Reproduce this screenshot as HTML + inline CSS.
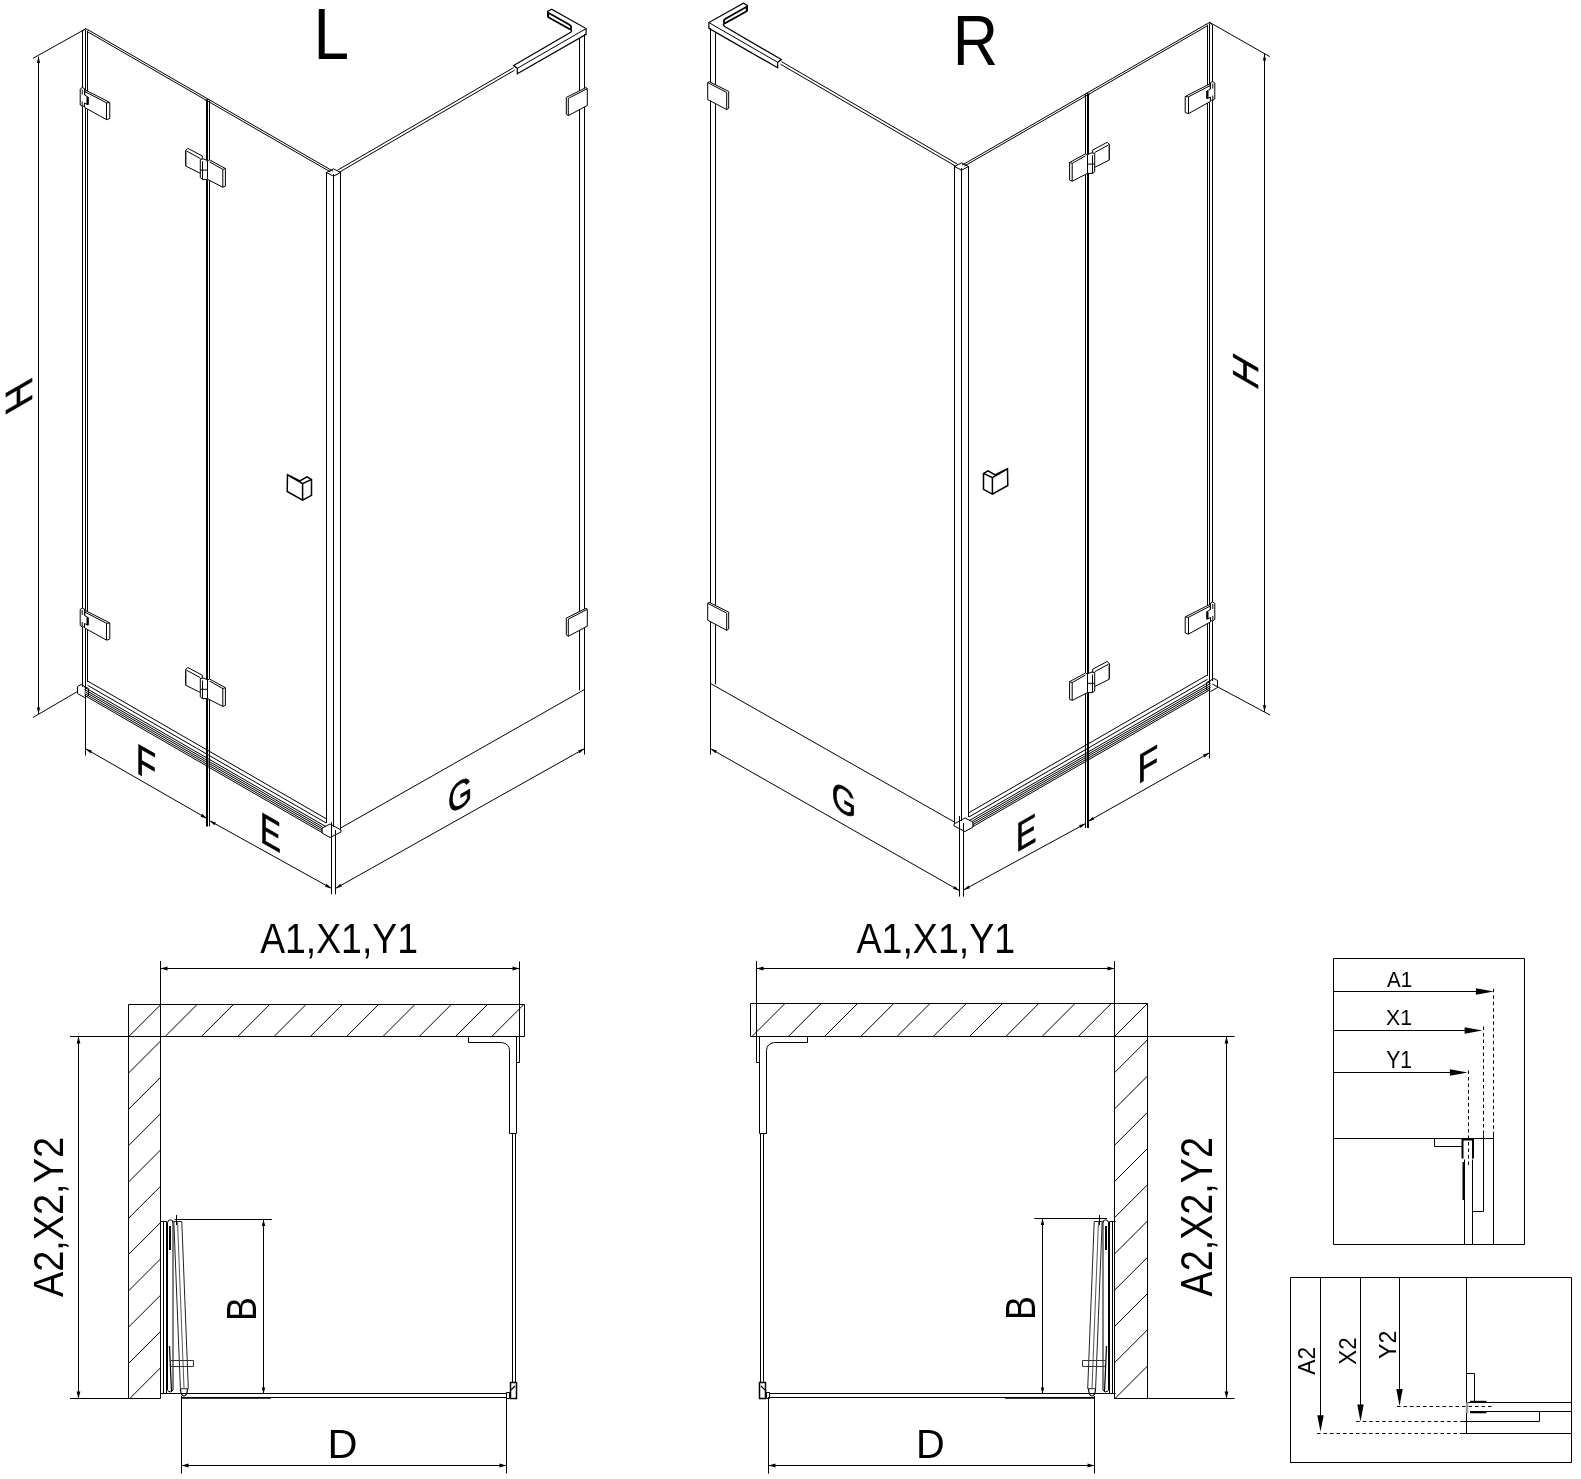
<!DOCTYPE html>
<html><head><meta charset="utf-8"><style>
html,body{margin:0;padding:0;background:#fff;width:1581px;height:1479px;overflow:hidden}
svg{display:block;will-change:transform}
text{font-family:"Liberation Sans",sans-serif}
</style></head><body>
<svg width="1581" height="1479" viewBox="0 0 1581 1479">
<rect width="1581" height="1479" fill="#fff"/>
<g>
<line x1="82.50" y1="31.00" x2="82.50" y2="687.00" stroke="#000" stroke-width="1" />
<line x1="85.50" y1="29.50" x2="85.50" y2="691.00" stroke="#000" stroke-width="1" />
<line x1="87.50" y1="31.00" x2="87.50" y2="682.00" stroke="#000" stroke-width="1" />
<path d="M82.5,31 L85.5,28.5 L88.5,30.5" stroke="#000" stroke-width="1" fill="none" />
<line x1="88.00" y1="29.80" x2="333.00" y2="171.20" stroke="#000" stroke-width="1" />
<line x1="88.00" y1="32.00" x2="330.50" y2="172.00" stroke="#000" stroke-width="1" />
<line x1="207.00" y1="100.00" x2="207.00" y2="789.00" stroke="#000" stroke-width="2" />
<line x1="209.50" y1="101.00" x2="209.50" y2="789.00" stroke="#000" stroke-width="1" />
<path d="M205.5,100.5 L208,99 L211,101" stroke="#000" stroke-width="1" fill="none" />
<line x1="326.50" y1="172.00" x2="326.50" y2="823.00" stroke="#000" stroke-width="1" />
<line x1="333.50" y1="174.00" x2="333.50" y2="827.00" stroke="#000" stroke-width="1" />
<line x1="340.50" y1="172.00" x2="340.50" y2="830.00" stroke="#000" stroke-width="1" />
<path d="M326.5,172.5 L333.5,168.8 L340.5,172.5 L333.5,176.2 Z" stroke="#000" stroke-width="1" fill="none" />
<line x1="337.50" y1="170.20" x2="513.60" y2="67.60" stroke="#000" stroke-width="1" />
<line x1="339.00" y1="172.40" x2="514.50" y2="70.20" stroke="#000" stroke-width="1" />
<path d="M513.6,65.6 L570.3,32.6 Q573,30.5 570.5,29 L547.6,16.2 L547.6,11.4 L551.6,9.3 L586.1,28.6 L586.1,34.3 L517.3,73.8 L517.3,68.3 Z" stroke="#000" stroke-width="1.2" fill="none" />
<line x1="513.60" y1="65.60" x2="517.30" y2="68.30" stroke="#000" stroke-width="1" />
<line x1="517.30" y1="68.30" x2="586.10" y2="28.60" stroke="#000" stroke-width="1" />
<path d="M548.3,12.8 L569.5,24.8 Q572.3,26.8 570.5,29.6 L548.3,17.3 Z" stroke="#000" stroke-width="1.7" fill="#fff" />
<line x1="579.50" y1="38.00" x2="579.50" y2="690.30" stroke="#000" stroke-width="1" />
<line x1="584.50" y1="34.00" x2="584.50" y2="690.00" stroke="#000" stroke-width="1" />
<line x1="584.50" y1="689.50" x2="340.50" y2="828.10" stroke="#000" stroke-width="1" />
<line x1="87.50" y1="680.94" x2="326.00" y2="818.63" stroke="#000" stroke-width="1" />
<line x1="87.50" y1="685.24" x2="326.00" y2="822.93" stroke="#000" stroke-width="1" />
<line x1="84.50" y1="687.31" x2="326.00" y2="826.73" stroke="#000" stroke-width="1" />
<line x1="84.50" y1="689.51" x2="322.50" y2="826.91" stroke="#000" stroke-width="1" />
<line x1="84.50" y1="691.51" x2="322.50" y2="828.91" stroke="#000" stroke-width="1" />
<line x1="84.50" y1="693.51" x2="322.50" y2="830.91" stroke="#000" stroke-width="1" />
<line x1="84.50" y1="695.41" x2="322.50" y2="832.81" stroke="#000" stroke-width="1" />
<path d="M77.5,686.5 L81,684.5 L88.5,688.5 L88.5,695.5 L84.5,697.5 L77.5,693.5 Z" stroke="#000" stroke-width="1" fill="none" />
<path d="M322,828 L330,824 L341,830 L341,832 L330,837.5 L322,833 Z" stroke="#000" stroke-width="1" fill="none" />
<path d="M287.5,474.8 L287.2,491.5 L302.6,500.1 L311.5,495.3 L311.5,479.4 L306.9,476.8 L299.9,480.9 Z M302.6,483.6 L302.6,500.1 M287.5,474.8 L302.6,483.6 L311.5,479.4" stroke="#000" stroke-width="1.5" fill="none" />
<path d="M84.9,89.8 L108,101.5 L109.8,102.6 L109.8,118.5 L106.7,119.7 L84.5,107.4 Z" stroke="#000" stroke-width="1" fill="#fff" />
<path d="M80.2,89 L82.2,87.5 L84.5,88.7 L84.5,95 L88,97 L88,104.7 L84.5,103 L84.5,106 L82.3,106.5 L80.2,105 Z" stroke="#000" stroke-width="1" fill="#fff" />
<path d="M82.2,89.5 V94.5 M82.2,101.5 V106" stroke="#000" stroke-width="1" fill="none" />
<path d="M87.6,97 V104.7" stroke="#000" stroke-width="2.2" fill="none" />
<line x1="84.90" y1="91.60" x2="106.50" y2="102.80" stroke="#000" stroke-width="1" />
<line x1="106.50" y1="102.80" x2="106.50" y2="119.50" stroke="#000" stroke-width="1" />
<line x1="106.50" y1="102.80" x2="109.80" y2="102.60" stroke="#000" stroke-width="1" />
<path d="M84.9,610.3 L108,622.0 L109.8,623.1 L109.8,639.0 L106.7,640.2 L84.5,627.9 Z" stroke="#000" stroke-width="1" fill="#fff" />
<path d="M80.2,609.5 L82.2,608.0 L84.5,609.2 L84.5,615.5 L88,617.5 L88,625.2 L84.5,623.5 L84.5,626.5 L82.3,627.0 L80.2,625.5 Z" stroke="#000" stroke-width="1" fill="#fff" />
<path d="M82.2,610.0 V615.0 M82.2,622.0 V626.5" stroke="#000" stroke-width="1" fill="none" />
<path d="M87.6,617.5 V625.2" stroke="#000" stroke-width="2.2" fill="none" />
<line x1="84.90" y1="612.10" x2="106.50" y2="623.30" stroke="#000" stroke-width="1" />
<line x1="106.50" y1="623.30" x2="106.50" y2="640.00" stroke="#000" stroke-width="1" />
<line x1="106.50" y1="623.30" x2="109.80" y2="623.10" stroke="#000" stroke-width="1" />
<path d="M185.6,150.5 L187.8,148.3 L202.3,156.0 L202.3,174.3 L185.6,166.0 Z" stroke="#000" stroke-width="1" fill="#fff" />
<path d="M185.6,150.5 L200.3,158.5" stroke="#000" stroke-width="1" fill="none" />
<line x1="186.50" y1="150.80" x2="186.50" y2="165.80" stroke="#999" stroke-width="1" />
<path d="M200.3,159.3 L200.3,177.8 L202.5,179.4 L207.5,179.4 L207.5,160.8 Q204,157.8 200.3,159.3 Z" stroke="#000" stroke-width="1" fill="#fff" />
<path d="M202.5,161.3 L202.5,179.3 M200.3,170.10000000000002 L207.5,170.10000000000002" stroke="#000" stroke-width="1" fill="none" />
<path d="M207.5,160.8 L209.5,159.8 L225.4,168.5 L225.4,186.10000000000002 L222.8,187.20000000000002 L207.5,179.4 Z" stroke="#000" stroke-width="1" fill="#fff" />
<path d="M209.5,161.8 L222.8,169.4 L222.8,187.20000000000002 M222.8,169.4 L225.4,168.5" stroke="#000" stroke-width="1" fill="none" />
<path d="M185.6,669.7 L187.8,667.5 L202.3,675.2 L202.3,693.5 L185.6,685.2 Z" stroke="#000" stroke-width="1" fill="#fff" />
<path d="M185.6,669.7 L200.3,677.7" stroke="#000" stroke-width="1" fill="none" />
<line x1="186.50" y1="670.00" x2="186.50" y2="685.00" stroke="#999" stroke-width="1" />
<path d="M200.3,678.5 L200.3,697.0 L202.5,698.6 L207.5,698.6 L207.5,680.0 Q204,677.0 200.3,678.5 Z" stroke="#000" stroke-width="1" fill="#fff" />
<path d="M202.5,680.5 L202.5,698.5 M200.3,689.3 L207.5,689.3" stroke="#000" stroke-width="1" fill="none" />
<path d="M207.5,680.0 L209.5,679.0 L225.4,687.7 L225.4,705.3 L222.8,706.4 L207.5,698.6 Z" stroke="#000" stroke-width="1" fill="#fff" />
<path d="M209.5,681.0 L222.8,688.6 L222.8,706.4 M222.8,688.6 L225.4,687.7" stroke="#000" stroke-width="1" fill="none" />
<path d="M566.3,97.39999999999999 L585.9,87.6 L587.3,88.6 L587.3,105.5 L568.3,115.6 L566.3,114.3 Z" stroke="#000" stroke-width="1" fill="#fff" />
<path d="M568.3,98.39999999999999 L568.3,115.6 M568.3,98.39999999999999 L587.3,88.6" stroke="#000" stroke-width="1" fill="none" />
<path d="M566.3,618.0999999999999 L585.9,608.3 L587.3,609.3 L587.3,626.1999999999999 L568.3,636.3 L566.3,635.0 Z" stroke="#000" stroke-width="1" fill="#fff" />
<path d="M568.3,619.0999999999999 L568.3,636.3 M568.3,619.0999999999999 L587.3,609.3" stroke="#000" stroke-width="1" fill="none" />
</g>
<g transform="matrix(-1 0 0 1 1295 -6)"><line x1="82.50" y1="31.00" x2="82.50" y2="687.00" stroke="#000" stroke-width="1" />
<line x1="85.50" y1="29.50" x2="85.50" y2="691.00" stroke="#000" stroke-width="1" />
<line x1="87.50" y1="31.00" x2="87.50" y2="682.00" stroke="#000" stroke-width="1" />
<path d="M82.5,31 L85.5,28.5 L88.5,30.5" stroke="#000" stroke-width="1" fill="none" />
<line x1="88.00" y1="29.80" x2="333.00" y2="171.20" stroke="#000" stroke-width="1" />
<line x1="88.00" y1="32.00" x2="330.50" y2="172.00" stroke="#000" stroke-width="1" />
<line x1="207.00" y1="100.00" x2="207.00" y2="789.00" stroke="#000" stroke-width="2" />
<line x1="209.50" y1="101.00" x2="209.50" y2="789.00" stroke="#000" stroke-width="1" />
<path d="M205.5,100.5 L208,99 L211,101" stroke="#000" stroke-width="1" fill="none" />
<line x1="326.50" y1="172.00" x2="326.50" y2="823.00" stroke="#000" stroke-width="1" />
<line x1="333.50" y1="174.00" x2="333.50" y2="827.00" stroke="#000" stroke-width="1" />
<line x1="340.50" y1="172.00" x2="340.50" y2="830.00" stroke="#000" stroke-width="1" />
<path d="M326.5,172.5 L333.5,168.8 L340.5,172.5 L333.5,176.2 Z" stroke="#000" stroke-width="1" fill="none" />
<line x1="337.50" y1="170.20" x2="513.60" y2="67.60" stroke="#000" stroke-width="1" />
<line x1="339.00" y1="172.40" x2="514.50" y2="70.20" stroke="#000" stroke-width="1" />
<path d="M513.6,65.6 L570.3,32.6 Q573,30.5 570.5,29 L547.6,16.2 L547.6,11.4 L551.6,9.3 L586.1,28.6 L586.1,34.3 L517.3,73.8 L517.3,68.3 Z" stroke="#000" stroke-width="1.2" fill="none" />
<line x1="513.60" y1="65.60" x2="517.30" y2="68.30" stroke="#000" stroke-width="1" />
<line x1="517.30" y1="68.30" x2="586.10" y2="28.60" stroke="#000" stroke-width="1" />
<path d="M548.3,12.8 L569.5,24.8 Q572.3,26.8 570.5,29.6 L548.3,17.3 Z" stroke="#000" stroke-width="1.7" fill="#fff" />
<line x1="579.50" y1="38.00" x2="579.50" y2="690.30" stroke="#000" stroke-width="1" />
<line x1="584.50" y1="34.00" x2="584.50" y2="690.00" stroke="#000" stroke-width="1" />
<line x1="584.50" y1="689.50" x2="340.50" y2="828.10" stroke="#000" stroke-width="1" />
<line x1="87.50" y1="680.94" x2="326.00" y2="818.63" stroke="#000" stroke-width="1" />
<line x1="87.50" y1="685.24" x2="326.00" y2="822.93" stroke="#000" stroke-width="1" />
<line x1="84.50" y1="687.31" x2="326.00" y2="826.73" stroke="#000" stroke-width="1" />
<line x1="84.50" y1="689.51" x2="322.50" y2="826.91" stroke="#000" stroke-width="1" />
<line x1="84.50" y1="691.51" x2="322.50" y2="828.91" stroke="#000" stroke-width="1" />
<line x1="84.50" y1="693.51" x2="322.50" y2="830.91" stroke="#000" stroke-width="1" />
<line x1="84.50" y1="695.41" x2="322.50" y2="832.81" stroke="#000" stroke-width="1" />
<path d="M77.5,686.5 L81,684.5 L88.5,688.5 L88.5,695.5 L84.5,697.5 L77.5,693.5 Z" stroke="#000" stroke-width="1" fill="none" />
<path d="M322,828 L330,824 L341,830 L341,832 L330,837.5 L322,833 Z" stroke="#000" stroke-width="1" fill="none" />
<path d="M287.5,474.8 L287.2,491.5 L302.6,500.1 L311.5,495.3 L311.5,479.4 L306.9,476.8 L299.9,480.9 Z M302.6,483.6 L302.6,500.1 M287.5,474.8 L302.6,483.6 L311.5,479.4" stroke="#000" stroke-width="1.5" fill="none" />
<path d="M84.9,89.8 L108,101.5 L109.8,102.6 L109.8,118.5 L106.7,119.7 L84.5,107.4 Z" stroke="#000" stroke-width="1" fill="#fff" />
<path d="M80.2,89 L82.2,87.5 L84.5,88.7 L84.5,95 L88,97 L88,104.7 L84.5,103 L84.5,106 L82.3,106.5 L80.2,105 Z" stroke="#000" stroke-width="1" fill="#fff" />
<path d="M82.2,89.5 V94.5 M82.2,101.5 V106" stroke="#000" stroke-width="1" fill="none" />
<path d="M87.6,97 V104.7" stroke="#000" stroke-width="2.2" fill="none" />
<line x1="84.90" y1="91.60" x2="106.50" y2="102.80" stroke="#000" stroke-width="1" />
<line x1="106.50" y1="102.80" x2="106.50" y2="119.50" stroke="#000" stroke-width="1" />
<line x1="106.50" y1="102.80" x2="109.80" y2="102.60" stroke="#000" stroke-width="1" />
<path d="M84.9,610.3 L108,622.0 L109.8,623.1 L109.8,639.0 L106.7,640.2 L84.5,627.9 Z" stroke="#000" stroke-width="1" fill="#fff" />
<path d="M80.2,609.5 L82.2,608.0 L84.5,609.2 L84.5,615.5 L88,617.5 L88,625.2 L84.5,623.5 L84.5,626.5 L82.3,627.0 L80.2,625.5 Z" stroke="#000" stroke-width="1" fill="#fff" />
<path d="M82.2,610.0 V615.0 M82.2,622.0 V626.5" stroke="#000" stroke-width="1" fill="none" />
<path d="M87.6,617.5 V625.2" stroke="#000" stroke-width="2.2" fill="none" />
<line x1="84.90" y1="612.10" x2="106.50" y2="623.30" stroke="#000" stroke-width="1" />
<line x1="106.50" y1="623.30" x2="106.50" y2="640.00" stroke="#000" stroke-width="1" />
<line x1="106.50" y1="623.30" x2="109.80" y2="623.10" stroke="#000" stroke-width="1" />
<path d="M185.6,150.5 L187.8,148.3 L202.3,156.0 L202.3,174.3 L185.6,166.0 Z" stroke="#000" stroke-width="1" fill="#fff" />
<path d="M185.6,150.5 L200.3,158.5" stroke="#000" stroke-width="1" fill="none" />
<line x1="186.50" y1="150.80" x2="186.50" y2="165.80" stroke="#999" stroke-width="1" />
<path d="M200.3,159.3 L200.3,177.8 L202.5,179.4 L207.5,179.4 L207.5,160.8 Q204,157.8 200.3,159.3 Z" stroke="#000" stroke-width="1" fill="#fff" />
<path d="M202.5,161.3 L202.5,179.3 M200.3,170.10000000000002 L207.5,170.10000000000002" stroke="#000" stroke-width="1" fill="none" />
<path d="M207.5,160.8 L209.5,159.8 L225.4,168.5 L225.4,186.10000000000002 L222.8,187.20000000000002 L207.5,179.4 Z" stroke="#000" stroke-width="1" fill="#fff" />
<path d="M209.5,161.8 L222.8,169.4 L222.8,187.20000000000002 M222.8,169.4 L225.4,168.5" stroke="#000" stroke-width="1" fill="none" />
<path d="M185.6,669.7 L187.8,667.5 L202.3,675.2 L202.3,693.5 L185.6,685.2 Z" stroke="#000" stroke-width="1" fill="#fff" />
<path d="M185.6,669.7 L200.3,677.7" stroke="#000" stroke-width="1" fill="none" />
<line x1="186.50" y1="670.00" x2="186.50" y2="685.00" stroke="#999" stroke-width="1" />
<path d="M200.3,678.5 L200.3,697.0 L202.5,698.6 L207.5,698.6 L207.5,680.0 Q204,677.0 200.3,678.5 Z" stroke="#000" stroke-width="1" fill="#fff" />
<path d="M202.5,680.5 L202.5,698.5 M200.3,689.3 L207.5,689.3" stroke="#000" stroke-width="1" fill="none" />
<path d="M207.5,680.0 L209.5,679.0 L225.4,687.7 L225.4,705.3 L222.8,706.4 L207.5,698.6 Z" stroke="#000" stroke-width="1" fill="#fff" />
<path d="M209.5,681.0 L222.8,688.6 L222.8,706.4 M222.8,688.6 L225.4,687.7" stroke="#000" stroke-width="1" fill="none" />
<path d="M566.3,97.39999999999999 L585.9,87.6 L587.3,88.6 L587.3,105.5 L568.3,115.6 L566.3,114.3 Z" stroke="#000" stroke-width="1" fill="#fff" />
<path d="M568.3,98.39999999999999 L568.3,115.6 M568.3,98.39999999999999 L587.3,88.6" stroke="#000" stroke-width="1" fill="none" />
<path d="M566.3,618.0999999999999 L585.9,608.3 L587.3,609.3 L587.3,626.1999999999999 L568.3,636.3 L566.3,635.0 Z" stroke="#000" stroke-width="1" fill="#fff" />
<path d="M568.3,619.0999999999999 L568.3,636.3 M568.3,619.0999999999999 L587.3,609.3" stroke="#000" stroke-width="1" fill="none" />
</g>
<line x1="86.00" y1="28.70" x2="33.00" y2="58.30" stroke="#000" stroke-width="1" />
<line x1="38.50" y1="56.50" x2="38.50" y2="714.00" stroke="#000" stroke-width="1" />
<path d="M38.50,56.50 L40.10,63.00 L36.90,63.00 Z" fill="#000" stroke="none"/>
<path d="M38.50,714.00 L36.90,707.50 L40.10,707.50 Z" fill="#000" stroke="none"/>
<line x1="77.80" y1="691.30" x2="33.00" y2="717.50" stroke="#000" stroke-width="1" />
<line x1="85.50" y1="694.00" x2="85.50" y2="755.50" stroke="#000" stroke-width="1" />
<line x1="85.50" y1="748.70" x2="207.00" y2="818.50" stroke="#000" stroke-width="1" />
<path d="M85.50,748.70 L91.93,750.55 L90.34,753.33 Z" fill="#000" stroke="none"/>
<path d="M207.00,818.50 L200.57,816.65 L202.16,813.87 Z" fill="#000" stroke="none"/>
<line x1="207.00" y1="789.00" x2="207.00" y2="826.50" stroke="#000" stroke-width="2" />
<line x1="209.50" y1="789.00" x2="209.50" y2="826.50" stroke="#000" stroke-width="1" />
<line x1="209.50" y1="820.70" x2="331.50" y2="888.40" stroke="#000" stroke-width="1" />
<path d="M209.50,820.70 L215.96,822.45 L214.41,825.25 Z" fill="#000" stroke="none"/>
<path d="M331.50,888.40 L325.04,886.65 L326.59,883.85 Z" fill="#000" stroke="none"/>
<line x1="331.50" y1="822.00" x2="331.50" y2="894.30" stroke="#000" stroke-width="1" />
<line x1="335.50" y1="830.00" x2="335.50" y2="894.30" stroke="#000" stroke-width="1" />
<line x1="335.50" y1="888.40" x2="584.50" y2="748.60" stroke="#000" stroke-width="1" />
<path d="M335.50,888.40 L340.38,883.82 L341.95,886.61 Z" fill="#000" stroke="none"/>
<path d="M584.50,748.60 L579.62,753.18 L578.05,750.39 Z" fill="#000" stroke="none"/>
<line x1="584.50" y1="690.00" x2="584.50" y2="754.50" stroke="#000" stroke-width="1" />
<line x1="1209.00" y1="22.00" x2="1269.70" y2="56.60" stroke="#000" stroke-width="1" />
<line x1="1264.50" y1="54.00" x2="1264.50" y2="711.80" stroke="#000" stroke-width="1" />
<path d="M1264.50,54.00 L1266.10,60.50 L1262.90,60.50 Z" fill="#000" stroke="none"/>
<path d="M1264.50,711.80 L1262.90,705.30 L1266.10,705.30 Z" fill="#000" stroke="none"/>
<line x1="1212.30" y1="684.00" x2="1270.00" y2="715.00" stroke="#000" stroke-width="1" />
<line x1="710.50" y1="684.00" x2="710.50" y2="754.70" stroke="#000" stroke-width="1" />
<line x1="710.50" y1="748.70" x2="959.50" y2="890.70" stroke="#000" stroke-width="1" />
<path d="M710.50,748.70 L716.94,750.53 L715.35,753.31 Z" fill="#000" stroke="none"/>
<path d="M959.50,890.70 L953.06,888.87 L954.65,886.09 Z" fill="#000" stroke="none"/>
<line x1="959.50" y1="816.00" x2="959.50" y2="896.60" stroke="#000" stroke-width="1" />
<line x1="963.50" y1="823.00" x2="963.50" y2="896.60" stroke="#000" stroke-width="1" />
<line x1="963.50" y1="890.00" x2="1085.50" y2="823.60" stroke="#000" stroke-width="1" />
<path d="M963.50,890.00 L968.44,885.49 L969.97,888.30 Z" fill="#000" stroke="none"/>
<path d="M1085.50,823.60 L1080.56,828.11 L1079.03,825.30 Z" fill="#000" stroke="none"/>
<line x1="1085.50" y1="783.00" x2="1085.50" y2="828.00" stroke="#000" stroke-width="1" />
<line x1="1088.00" y1="783.00" x2="1088.00" y2="828.00" stroke="#000" stroke-width="2" />
<line x1="1088.00" y1="821.40" x2="1209.50" y2="752.80" stroke="#000" stroke-width="1" />
<path d="M1088.00,821.40 L1092.87,816.81 L1094.45,819.60 Z" fill="#000" stroke="none"/>
<path d="M1209.50,752.80 L1204.63,757.39 L1203.05,754.60 Z" fill="#000" stroke="none"/>
<line x1="1209.50" y1="686.00" x2="1209.50" y2="758.30" stroke="#000" stroke-width="1" />
<text fill="#000" transform="matrix(0.63957 0.00000 0.00000 0.71367 313.553 59.200)" font-size="100">L</text>
<text fill="#000" transform="matrix(0.62821 0.00000 0.00000 0.71222 952.647 64.800)" font-size="100">R</text>
<text fill="#000" stroke="#000" stroke-width="0.7" vector-effect="non-scaling-stroke" transform="matrix(0.00000 -0.37236 0.37791 -0.21817 32.300 402.055)" font-size="100">H</text>
<text fill="#000" stroke="#000" stroke-width="0.7" vector-effect="non-scaling-stroke" transform="matrix(0.32940 0.19016 0.00000 0.43024 135.898 772.540)" font-size="100">F</text>
<text fill="#000" stroke="#000" stroke-width="0.7" vector-effect="non-scaling-stroke" transform="matrix(0.31366 0.18107 0.00000 0.43024 259.927 841.215)" font-size="100">E</text>
<text fill="#000" stroke="#000" stroke-width="0.7" vector-effect="non-scaling-stroke" transform="matrix(0.31095 -0.17951 0.00000 0.39245 447.936 815.303)" font-size="100">G</text>
<text fill="#000" stroke="#000" stroke-width="0.7" vector-effect="non-scaling-stroke" transform="matrix(0.00000 -0.36520 0.36047 0.20810 1257.600 391.596)" font-size="100">H</text>
<text fill="#000" stroke="#000" stroke-width="0.7" vector-effect="non-scaling-stroke" transform="matrix(0.31248 0.18040 0.00000 0.38082 831.728 806.293)" font-size="100">G</text>
<text fill="#000" stroke="#000" stroke-width="0.7" vector-effect="non-scaling-stroke" transform="matrix(0.30628 -0.17681 0.00000 0.40844 1016.088 852.750)" font-size="100">E</text>
<text fill="#000" stroke="#000" stroke-width="0.7" vector-effect="non-scaling-stroke" transform="matrix(0.33963 -0.19607 0.00000 0.40698 1137.614 784.208)" font-size="100">F</text>
<path d="M128.5,1004.5 H524.5 V1036.5 H160.5 V1398.5 H128.5 Z" stroke="#000" stroke-width="1" fill="none" />
<line x1="128.50" y1="1036.50" x2="160.50" y2="1036.50" stroke="#000" stroke-width="1" />
<line x1="160.50" y1="1004.50" x2="160.50" y2="1036.50" stroke="#000" stroke-width="1" />
<path d="M1147.5,1003.5 H750.5 V1036.5 H1114.5 V1398.5 H1147.5 Z" stroke="#000" stroke-width="1" fill="none" />
<line x1="1114.50" y1="1036.50" x2="1147.50" y2="1036.50" stroke="#000" stroke-width="1" />
<line x1="1114.50" y1="1003.50" x2="1114.50" y2="1036.50" stroke="#000" stroke-width="1" />
<g>
<path d="M468.5,1036.5 V1042.5 H501.5 Q509.5,1043.5 509.5,1050.8 V1133.5 H516.5 V1036.5" stroke="#000" stroke-width="1" fill="none" />
<path d="M516.5,1036.5 H519.5 V1062.5 H516.5" stroke="#000" stroke-width="1" fill="none" />
<line x1="512.50" y1="1133.50" x2="512.50" y2="1382.50" stroke="#000" stroke-width="1" />
<line x1="515.50" y1="1133.50" x2="515.50" y2="1382.50" stroke="#000" stroke-width="1" />
<path d="M510.5,1398.5 V1382.5 H516.5 V1398.5 Z" stroke="#000" stroke-width="1.5" fill="none" />
<path d="M511,1390 L515,1386" stroke="#000" stroke-width="1.2" fill="none" />
<line x1="166.00" y1="1393.50" x2="506.50" y2="1393.50" stroke="#000" stroke-width="1" />
<line x1="181.00" y1="1397.50" x2="506.50" y2="1397.50" stroke="#000" stroke-width="1" />
<path d="M506.5,1392.5 H509.5 V1398.5 H506.5 Z" stroke="#000" stroke-width="1" fill="none" />
<line x1="181.00" y1="1398.00" x2="271.00" y2="1398.00" stroke="#000" stroke-width="1.5" />
<path d="M160.5,1221.5 H166.5 V1393.5 H160.5" stroke="#000" stroke-width="1" fill="none" />
<line x1="163.50" y1="1221.50" x2="163.50" y2="1393.50" stroke="#000" stroke-width="1" />
<path d="M167.5,1390.6 V1223 Q167.5,1219.8 170.5,1219.8 Q173,1219.8 173,1223 V1390 Q171,1393.5 168,1391" stroke="#000" stroke-width="1" fill="none" />
<line x1="170.00" y1="1226.00" x2="170.00" y2="1250.00" stroke="#000" stroke-width="2.0" />
<path d="M173.8,1220.8 L180.4,1388.7 M181.8,1221.5 L188.3,1388.7 M173.8,1221.5 H181.8 M180.4,1388.7 H188.3" stroke="#222" stroke-width="1" fill="none" />
<path d="M177.5,1221 L184,1388" stroke="#555" stroke-width="1.0" fill="none" />
<path d="M171,1360.5 H193.5 V1366.5 H171" stroke="#333" stroke-width="1" fill="none" />
<line x1="169.50" y1="1346.00" x2="171.50" y2="1392.00" stroke="#000" stroke-width="1.2" />
<path d="M180.4,1389 Q181,1396 184,1396 Q187,1396 187.5,1389" stroke="#000" stroke-width="1.2" fill="none" />
<line x1="176.50" y1="1215.00" x2="176.50" y2="1225.00" stroke="#000" stroke-width="1" />
</g>
<g transform="matrix(-1 0 0 1 1276 0)"><path d="M468.5,1036.5 V1042.5 H501.5 Q509.5,1043.5 509.5,1050.8 V1133.5 H516.5 V1036.5" stroke="#000" stroke-width="1" fill="none" />
<path d="M516.5,1036.5 H519.5 V1062.5 H516.5" stroke="#000" stroke-width="1" fill="none" />
<line x1="512.50" y1="1133.50" x2="512.50" y2="1382.50" stroke="#000" stroke-width="1" />
<line x1="515.50" y1="1133.50" x2="515.50" y2="1382.50" stroke="#000" stroke-width="1" />
<path d="M510.5,1398.5 V1382.5 H516.5 V1398.5 Z" stroke="#000" stroke-width="1.5" fill="none" />
<path d="M511,1390 L515,1386" stroke="#000" stroke-width="1.2" fill="none" />
<line x1="166.00" y1="1393.50" x2="506.50" y2="1393.50" stroke="#000" stroke-width="1" />
<line x1="181.00" y1="1397.50" x2="506.50" y2="1397.50" stroke="#000" stroke-width="1" />
<path d="M506.5,1392.5 H509.5 V1398.5 H506.5 Z" stroke="#000" stroke-width="1" fill="none" />
<line x1="181.00" y1="1398.00" x2="271.00" y2="1398.00" stroke="#000" stroke-width="1.5" />
<path d="M160.5,1221.5 H166.5 V1393.5 H160.5" stroke="#000" stroke-width="1" fill="none" />
<line x1="163.50" y1="1221.50" x2="163.50" y2="1393.50" stroke="#000" stroke-width="1" />
<path d="M167.5,1390.6 V1223 Q167.5,1219.8 170.5,1219.8 Q173,1219.8 173,1223 V1390 Q171,1393.5 168,1391" stroke="#000" stroke-width="1" fill="none" />
<line x1="170.00" y1="1226.00" x2="170.00" y2="1250.00" stroke="#000" stroke-width="2.0" />
<path d="M173.8,1220.8 L180.4,1388.7 M181.8,1221.5 L188.3,1388.7 M173.8,1221.5 H181.8 M180.4,1388.7 H188.3" stroke="#222" stroke-width="1" fill="none" />
<path d="M177.5,1221 L184,1388" stroke="#555" stroke-width="1.0" fill="none" />
<path d="M171,1360.5 H193.5 V1366.5 H171" stroke="#333" stroke-width="1" fill="none" />
<line x1="169.50" y1="1346.00" x2="171.50" y2="1392.00" stroke="#000" stroke-width="1.2" />
<path d="M180.4,1389 Q181,1396 184,1396 Q187,1396 187.5,1389" stroke="#000" stroke-width="1.2" fill="none" />
<line x1="176.50" y1="1215.00" x2="176.50" y2="1225.00" stroke="#000" stroke-width="1" />
</g>
<line x1="128.80" y1="1036.50" x2="160.80" y2="1004.50" stroke="#000" stroke-width="1" />
<line x1="165.10" y1="1036.50" x2="197.10" y2="1004.50" stroke="#000" stroke-width="1" />
<line x1="201.40" y1="1036.50" x2="233.40" y2="1004.50" stroke="#000" stroke-width="1" />
<line x1="237.70" y1="1036.50" x2="269.70" y2="1004.50" stroke="#000" stroke-width="1" />
<line x1="274.00" y1="1036.50" x2="306.00" y2="1004.50" stroke="#000" stroke-width="1" />
<line x1="310.30" y1="1036.50" x2="342.30" y2="1004.50" stroke="#000" stroke-width="1" />
<line x1="346.60" y1="1036.50" x2="378.60" y2="1004.50" stroke="#000" stroke-width="1" />
<line x1="382.90" y1="1036.50" x2="414.90" y2="1004.50" stroke="#000" stroke-width="1" />
<line x1="419.20" y1="1036.50" x2="451.20" y2="1004.50" stroke="#000" stroke-width="1" />
<line x1="455.50" y1="1036.50" x2="487.50" y2="1004.50" stroke="#000" stroke-width="1" />
<line x1="491.80" y1="1036.50" x2="523.80" y2="1004.50" stroke="#000" stroke-width="1" />
<line x1="128.50" y1="1036.80" x2="128.80" y2="1036.50" stroke="#000" stroke-width="1" />
<line x1="128.50" y1="1073.10" x2="160.50" y2="1041.10" stroke="#000" stroke-width="1" />
<line x1="128.50" y1="1109.40" x2="160.50" y2="1077.40" stroke="#000" stroke-width="1" />
<line x1="128.50" y1="1145.70" x2="160.50" y2="1113.70" stroke="#000" stroke-width="1" />
<line x1="128.50" y1="1182.00" x2="160.50" y2="1150.00" stroke="#000" stroke-width="1" />
<line x1="128.50" y1="1218.30" x2="160.50" y2="1186.30" stroke="#000" stroke-width="1" />
<line x1="128.50" y1="1254.60" x2="160.50" y2="1222.60" stroke="#000" stroke-width="1" />
<line x1="128.50" y1="1290.90" x2="160.50" y2="1258.90" stroke="#000" stroke-width="1" />
<line x1="128.50" y1="1327.20" x2="160.50" y2="1295.20" stroke="#000" stroke-width="1" />
<line x1="128.50" y1="1363.50" x2="160.50" y2="1331.50" stroke="#000" stroke-width="1" />
<line x1="129.80" y1="1398.50" x2="160.50" y2="1367.80" stroke="#000" stroke-width="1" />
<line x1="752.00" y1="1036.50" x2="785.00" y2="1003.50" stroke="#000" stroke-width="1" />
<line x1="788.25" y1="1036.50" x2="821.25" y2="1003.50" stroke="#000" stroke-width="1" />
<line x1="824.50" y1="1036.50" x2="857.50" y2="1003.50" stroke="#000" stroke-width="1" />
<line x1="860.75" y1="1036.50" x2="893.75" y2="1003.50" stroke="#000" stroke-width="1" />
<line x1="897.00" y1="1036.50" x2="930.00" y2="1003.50" stroke="#000" stroke-width="1" />
<line x1="933.25" y1="1036.50" x2="966.25" y2="1003.50" stroke="#000" stroke-width="1" />
<line x1="969.50" y1="1036.50" x2="1002.50" y2="1003.50" stroke="#000" stroke-width="1" />
<line x1="1005.75" y1="1036.50" x2="1038.75" y2="1003.50" stroke="#000" stroke-width="1" />
<line x1="1042.00" y1="1036.50" x2="1075.00" y2="1003.50" stroke="#000" stroke-width="1" />
<line x1="1078.25" y1="1036.50" x2="1111.25" y2="1003.50" stroke="#000" stroke-width="1" />
<line x1="1114.50" y1="1036.50" x2="1147.50" y2="1003.50" stroke="#000" stroke-width="1" />
<line x1="1114.50" y1="1072.75" x2="1147.50" y2="1039.75" stroke="#000" stroke-width="1" />
<line x1="1114.50" y1="1109.00" x2="1147.50" y2="1076.00" stroke="#000" stroke-width="1" />
<line x1="1114.50" y1="1145.25" x2="1147.50" y2="1112.25" stroke="#000" stroke-width="1" />
<line x1="1114.50" y1="1181.50" x2="1147.50" y2="1148.50" stroke="#000" stroke-width="1" />
<line x1="1114.50" y1="1217.75" x2="1147.50" y2="1184.75" stroke="#000" stroke-width="1" />
<line x1="1114.50" y1="1254.00" x2="1147.50" y2="1221.00" stroke="#000" stroke-width="1" />
<line x1="1114.50" y1="1290.25" x2="1147.50" y2="1257.25" stroke="#000" stroke-width="1" />
<line x1="1114.50" y1="1326.50" x2="1147.50" y2="1293.50" stroke="#000" stroke-width="1" />
<line x1="1114.50" y1="1362.75" x2="1147.50" y2="1329.75" stroke="#000" stroke-width="1" />
<line x1="1115.00" y1="1398.50" x2="1147.50" y2="1366.00" stroke="#000" stroke-width="1" />
<line x1="160.50" y1="968.50" x2="519.50" y2="968.50" stroke="#000" stroke-width="1" />
<path d="M160.50,968.50 L167.50,966.60 L167.50,970.40 Z" fill="#000" stroke="none"/>
<path d="M519.50,968.50 L512.50,970.40 L512.50,966.60 Z" fill="#000" stroke="none"/>
<line x1="160.50" y1="961.00" x2="160.50" y2="1004.50" stroke="#000" stroke-width="1" />
<line x1="519.50" y1="961.50" x2="519.50" y2="1036.50" stroke="#000" stroke-width="1" />
<line x1="78.50" y1="1036.50" x2="78.50" y2="1398.50" stroke="#000" stroke-width="1" />
<path d="M78.50,1036.50 L80.40,1043.50 L76.60,1043.50 Z" fill="#000" stroke="none"/>
<path d="M78.50,1398.50 L76.60,1391.50 L80.40,1391.50 Z" fill="#000" stroke="none"/>
<line x1="70.00" y1="1036.50" x2="128.50" y2="1036.50" stroke="#000" stroke-width="1" />
<line x1="70.00" y1="1398.50" x2="128.50" y2="1398.50" stroke="#000" stroke-width="1" />
<line x1="128.50" y1="1036.50" x2="468.50" y2="1036.50" stroke="#000" stroke-width="1" />
<line x1="263.50" y1="1219.50" x2="263.50" y2="1394.00" stroke="#000" stroke-width="1" />
<path d="M263.50,1219.50 L265.20,1226.00 L261.80,1226.00 Z" fill="#000" stroke="none"/>
<path d="M263.50,1394.00 L261.80,1387.50 L265.20,1387.50 Z" fill="#000" stroke="none"/>
<line x1="174.70" y1="1219.50" x2="271.90" y2="1219.50" stroke="#000" stroke-width="1" />
<line x1="181.50" y1="1465.50" x2="506.50" y2="1465.50" stroke="#000" stroke-width="1" />
<path d="M181.50,1465.50 L188.50,1463.60 L188.50,1467.40 Z" fill="#000" stroke="none"/>
<path d="M506.50,1465.50 L499.50,1467.40 L499.50,1463.60 Z" fill="#000" stroke="none"/>
<line x1="181.50" y1="1396.00" x2="181.50" y2="1473.60" stroke="#000" stroke-width="1" />
<line x1="506.50" y1="1398.50" x2="506.50" y2="1473.50" stroke="#000" stroke-width="1" />
<line x1="756.50" y1="968.50" x2="1114.50" y2="968.50" stroke="#000" stroke-width="1" />
<path d="M756.50,968.50 L763.50,966.60 L763.50,970.40 Z" fill="#000" stroke="none"/>
<path d="M1114.50,968.50 L1107.50,970.40 L1107.50,966.60 Z" fill="#000" stroke="none"/>
<line x1="756.50" y1="961.00" x2="756.50" y2="1036.50" stroke="#000" stroke-width="1" />
<line x1="1114.50" y1="961.00" x2="1114.50" y2="1003.50" stroke="#000" stroke-width="1" />
<line x1="1226.50" y1="1036.50" x2="1226.50" y2="1398.50" stroke="#000" stroke-width="1" />
<path d="M1226.50,1036.50 L1228.40,1043.50 L1224.60,1043.50 Z" fill="#000" stroke="none"/>
<path d="M1226.50,1398.50 L1224.60,1391.50 L1228.40,1391.50 Z" fill="#000" stroke="none"/>
<line x1="1147.50" y1="1036.50" x2="1234.50" y2="1036.50" stroke="#000" stroke-width="1" />
<line x1="1147.50" y1="1398.50" x2="1234.50" y2="1398.50" stroke="#000" stroke-width="1" />
<line x1="807.50" y1="1036.50" x2="1147.50" y2="1036.50" stroke="#000" stroke-width="1" />
<line x1="1042.50" y1="1218.50" x2="1042.50" y2="1394.00" stroke="#000" stroke-width="1" />
<path d="M1042.50,1218.50 L1044.20,1225.00 L1040.80,1225.00 Z" fill="#000" stroke="none"/>
<path d="M1042.50,1394.00 L1040.80,1387.50 L1044.20,1387.50 Z" fill="#000" stroke="none"/>
<line x1="1034.30" y1="1218.50" x2="1107.00" y2="1218.50" stroke="#000" stroke-width="1" />
<line x1="768.50" y1="1465.50" x2="1094.50" y2="1465.50" stroke="#000" stroke-width="1" />
<path d="M768.50,1465.50 L775.50,1463.60 L775.50,1467.40 Z" fill="#000" stroke="none"/>
<path d="M1094.50,1465.50 L1087.50,1467.40 L1087.50,1463.60 Z" fill="#000" stroke="none"/>
<line x1="768.50" y1="1397.00" x2="768.50" y2="1473.60" stroke="#000" stroke-width="1" />
<line x1="1094.50" y1="1396.00" x2="1094.50" y2="1473.60" stroke="#000" stroke-width="1" />
<text fill="#000" transform="matrix(0.37371 0.00000 0.00000 0.43264 260.127 952.865)" font-size="100">A1,X1,Y1</text>
<text fill="#000" transform="matrix(0.37539 0.00000 0.00000 0.43264 856.527 952.865)" font-size="100">A1,X1,Y1</text>
<text fill="#000" transform="matrix(0.00000 -0.37888 0.43332 0.00000 63.057 1297.074)" font-size="100">A2,X2,Y2</text>
<text fill="#000" transform="matrix(0.00000 -0.37744 0.44180 0.00000 1211.648 1296.474)" font-size="100">A2,X2,Y2</text>
<text fill="#000" transform="matrix(0.00000 -0.35699 0.41716 0.00000 256.200 1320.928)" font-size="100">B</text>
<text fill="#000" transform="matrix(0.00000 -0.35699 0.42588 0.00000 1035.300 1319.928)" font-size="100">B</text>
<text fill="#000" transform="matrix(0.41534 0.00000 0.00000 0.39972 327.593 1458.000)" font-size="100">D</text>
<text fill="#000" transform="matrix(0.39677 0.00000 0.00000 0.39826 916.045 1458.000)" font-size="100">D</text>
<path d="M1333.5,958.5 H1524.5 V1244.5 H1333.5 Z" stroke="#000" stroke-width="1" fill="none" />
<text fill="#000" transform="matrix(0.20557 0.00000 0.00000 0.22820 1386.960 986.700)" font-size="100">A1</text>
<text fill="#000" transform="matrix(0.21183 0.00000 0.00000 0.22820 1386.124 1025.400)" font-size="100">X1</text>
<text fill="#000" transform="matrix(0.21174 0.00000 0.00000 0.24419 1386.135 1068.400)" font-size="100">Y1</text>
<line x1="1333.50" y1="991.50" x2="1480.00" y2="991.50" stroke="#000" stroke-width="1" />
<path d="M1493.90,991.50 L1475.90,994.70 L1475.90,988.30 Z" fill="#000" stroke="none"/>
<line x1="1333.50" y1="1030.50" x2="1468.00" y2="1030.50" stroke="#000" stroke-width="1" />
<path d="M1482.40,1030.50 L1464.60,1033.70 L1464.60,1027.30 Z" fill="#000" stroke="none"/>
<line x1="1333.50" y1="1072.50" x2="1452.00" y2="1072.50" stroke="#000" stroke-width="1" />
<path d="M1467.70,1072.50 L1449.90,1075.70 L1449.90,1069.30 Z" fill="#000" stroke="none"/>
<line x1="1493.50" y1="988.80" x2="1493.50" y2="1138.50" stroke="#000" stroke-width="1" stroke-dasharray="3.5 3"/>
<line x1="1483.50" y1="1026.50" x2="1483.50" y2="1134.40" stroke="#000" stroke-width="1" stroke-dasharray="3.5 3"/>
<line x1="1468.50" y1="1070.50" x2="1468.50" y2="1165.80" stroke="#000" stroke-width="1" stroke-dasharray="3.5 3"/>
<line x1="1333.50" y1="1138.50" x2="1493.50" y2="1138.50" stroke="#000" stroke-width="1" />
<line x1="1493.50" y1="1134.40" x2="1493.50" y2="1244.50" stroke="#000" stroke-width="1" />
<path d="M1483.5,1134.4 V1211.5 H1473" stroke="#000" stroke-width="1" fill="none" />
<path d="M1473,1138.5 H1434.5 V1146.5 H1462.5" stroke="#000" stroke-width="1" fill="none" />
<path d="M1462.5,1158.5 V1139.5 H1473 V1158.5" stroke="#000" stroke-width="2.0" fill="none" />
<line x1="1464.50" y1="1159.50" x2="1464.50" y2="1244.50" stroke="#000" stroke-width="1" />
<line x1="1472.50" y1="1159.50" x2="1472.50" y2="1244.50" stroke="#000" stroke-width="1" />
<line x1="1463.50" y1="1162.00" x2="1463.50" y2="1200.00" stroke="#000" stroke-width="2.0" />
<path d="M1290.5,1277.5 H1571.5 V1462.5 H1290.5 Z" stroke="#000" stroke-width="1" fill="none" />
<line x1="1320.50" y1="1277.50" x2="1320.50" y2="1420.00" stroke="#000" stroke-width="1" />
<path d="M1320.50,1431.80 L1317.30,1415.30 L1323.70,1415.30 Z" fill="#000" stroke="none"/>
<line x1="1360.50" y1="1277.50" x2="1360.50" y2="1410.00" stroke="#000" stroke-width="1" />
<path d="M1360.50,1421.40 L1357.30,1404.40 L1363.70,1404.40 Z" fill="#000" stroke="none"/>
<line x1="1399.50" y1="1277.50" x2="1399.50" y2="1395.00" stroke="#000" stroke-width="1" />
<path d="M1399.50,1406.10 L1396.30,1389.10 L1402.70,1389.10 Z" fill="#000" stroke="none"/>
<text fill="#000" transform="matrix(0.00000 -0.22803 0.23201 0.00000 1315.200 1374.745)" font-size="100">A2</text>
<text fill="#000" transform="matrix(0.00000 -0.22340 0.23201 0.00000 1356.200 1364.702)" font-size="100">X2</text>
<text fill="#000" transform="matrix(0.00000 -0.23113 0.23058 0.00000 1396.100 1359.008)" font-size="100">Y2</text>
<line x1="1317.00" y1="1433.50" x2="1462.80" y2="1433.50" stroke="#000" stroke-width="1" stroke-dasharray="3.5 3"/>
<line x1="1462.80" y1="1433.50" x2="1571.50" y2="1433.50" stroke="#000" stroke-width="1" />
<line x1="1356.20" y1="1421.50" x2="1462.80" y2="1421.50" stroke="#000" stroke-width="1" stroke-dasharray="3.5 3"/>
<path d="M1462.8,1421.5 H1539.5 V1411.5" stroke="#000" stroke-width="1" fill="none" />
<line x1="1397.00" y1="1406.50" x2="1494.20" y2="1406.50" stroke="#000" stroke-width="1" stroke-dasharray="3.5 3"/>
<line x1="1466.50" y1="1277.50" x2="1466.50" y2="1433.50" stroke="#000" stroke-width="1" />
<path d="M1466.5,1373.5 H1474.5 V1401.5" stroke="#000" stroke-width="1" fill="none" />
<line x1="1467.50" y1="1402.50" x2="1571.50" y2="1402.50" stroke="#000" stroke-width="1" />
<line x1="1470.00" y1="1411.50" x2="1571.50" y2="1411.50" stroke="#000" stroke-width="1" />
<line x1="1470.00" y1="1401.80" x2="1486.50" y2="1401.80" stroke="#000" stroke-width="2.0" />
<line x1="1470.00" y1="1412.30" x2="1486.50" y2="1412.30" stroke="#000" stroke-width="2.0" />
<path d="M1467,1402.5 V1413 " stroke="#999" stroke-width="2.5" fill="none" />
</svg></body></html>
